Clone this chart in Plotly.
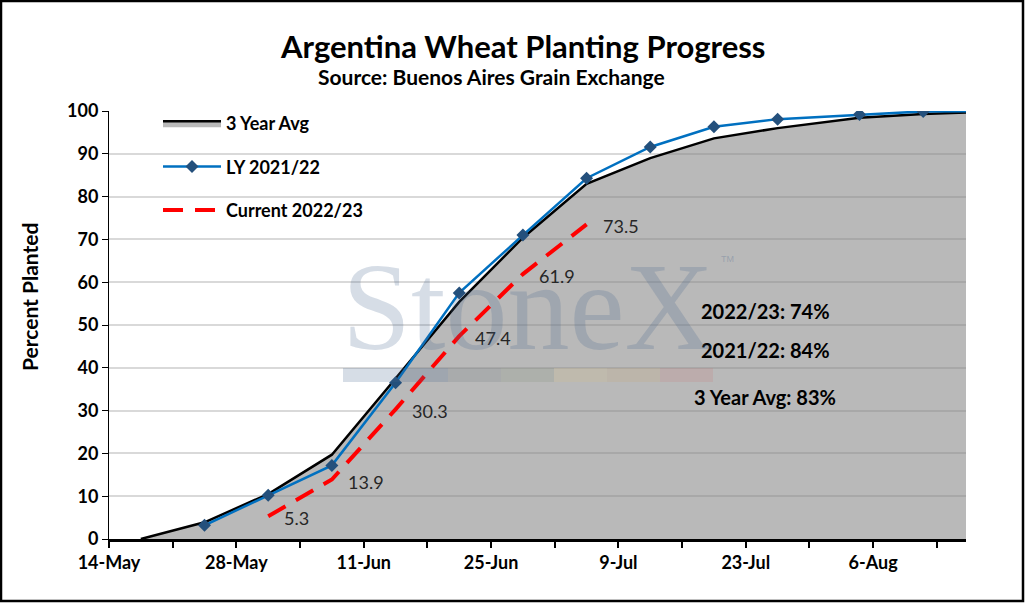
import pandas as pd
import plotly.graph_objects as go

# ---- data ----
avg_dates = ["2022-05-17", "2022-05-24", "2022-05-31", "2022-06-07", "2022-06-14", "2022-06-21", "2022-06-28",
             "2022-07-05", "2022-07-12", "2022-07-19", "2022-07-26", "2022-08-04", "2022-08-11", "2022-08-18"]
avg_vals = [0, 3.9, 10.5, 19.7, 37.5, 55.4, 70.4, 83.0, 89.0, 93.6, 96.0, 98.4, 99.3, 99.8]

ly_dates = ["2022-05-24", "2022-05-31", "2022-06-07", "2022-06-14", "2022-06-21", "2022-06-28", "2022-07-05",
            "2022-07-12", "2022-07-19", "2022-07-26", "2022-08-04", "2022-08-11", "2022-08-18"]
ly_vals = [3.2, 10.2, 17.2, 36.5, 57.5, 71.0, 84.3, 91.6, 96.3, 98.1, 99.2, 99.9, 100]

cur_dates = ["2022-05-31", "2022-06-07", "2022-06-14", "2022-06-21", "2022-06-28", "2022-07-05"]
cur_vals = [5.3, 13.9, 30.3, 47.4, 61.9, 73.5]

summary_lines = ["2022/23: 74%", "2021/22: 84%", "3 Year Avg: 83%"]

# Excel puts date points in the middle of the day
half_day = pd.Timedelta(hours=12)
avg_x = pd.to_datetime(avg_dates) + half_day
ly_x = pd.to_datetime(ly_dates) + half_day
cur_x = pd.to_datetime(cur_dates) + half_day

FONT = "Lato"
W, H = 1025, 603
L, R, T, B = 109, 59, 111, 64
pw, ph = W - L - R, H - T - B


def px(x):
    return (x - L) / pw


def py(y):
    return (H - B - y) / ph


def note(x, y, text, size, bold=True, color="black", **kw):
    # text placed by pixel position on the page
    fig.add_annotation(x=px(x), y=py(y), xref="paper", yref="paper", text=text, showarrow=False,
                       xanchor=kw.pop("xanchor", "center"), yanchor=kw.pop("yanchor", "middle"),
                       font=dict(family=kw.pop("family", FONT), size=size, color=color,
                                 weight="bold" if bold else "normal"), **kw)


fig = go.Figure()

fig.add_trace(go.Scatter(
    x=avg_x, y=avg_vals, name="3 Year Avg", mode="lines",
    line=dict(color="black", width=2.5), fill="tozeroy",
    fillcolor="rgba(128,128,128,0.55)", legendgroup="a"))

fig.add_trace(go.Scatter(
    x=ly_x, y=ly_vals, name="LY 2021/22", mode="lines+markers",
    line=dict(color="#0070c0", width=2.5),
    marker=dict(symbol="diamond", size=10, color="#24507c"), legendgroup="b"))

fig.add_trace(go.Scatter(
    x=cur_x, y=cur_vals, name="Current 2022/23", mode="lines",
    line=dict(color="#ff0000", width=4, dash="20px,12px"), legendgroup="c"))

# data labels on current season
for xv, yv in zip(cur_x, cur_vals):
    fig.add_annotation(x=xv, y=yv, text=f"{yv:.1f}", showarrow=False, xanchor="left", yanchor="middle",
                       xshift=14, yshift=-2, font=dict(family=FONT, size=18, color="#262626"))

# summary text
for txt, ypos in zip(summary_lines, [311, 350, 397]):
    note(765, ypos, txt, 20)

# StoneX watermark
note(340, 307, "StoneX", 124, bold=False, color="rgba(70,100,140,0.22)",
     family="Liberation Serif", xanchor="left")
note(719, 259, "TM", 9, bold=False, color="rgba(70,100,140,0.3)", family="Liberation Sans", xanchor="left")
bar_cols = ["rgba(70,100,140,0.22)", "rgba(80,90,100,0.14)", "rgba(110,130,100,0.16)",
            "rgba(210,190,140,0.25)", "rgba(200,170,120,0.22)", "rgba(200,120,120,0.2)"]
edges = [343, 448, 501, 554, 607, 660, 713]
shapes = []
for i, c in enumerate(bar_cols):
    shapes.append(dict(type="rect", xref="paper", yref="paper", x0=px(edges[i]), x1=px(edges[i + 1]),
                       y0=py(382), y1=py(368), fillcolor=c, line=dict(width=0), layer="above"))

# outer frame
shapes.append(dict(type="rect", xref="paper", yref="paper", x0=px(1), x1=px(1023), y0=py(601), y1=py(1),
                   line=dict(color="black", width=2.5), fillcolor="rgba(0,0,0,0)"))

# titles
note(522, 46, "Argentina Wheat Planting Progress", 31)
note(491, 76, "Source: Buenos Aires Grain Exchange", 21)
note(29, 297, "Percent Planted", 21, textangle=-90)

fig.update_layout(
    width=W, height=H, margin=dict(l=L, r=R, t=T, b=B),
    paper_bgcolor="white", plot_bgcolor="white",
    shapes=shapes,
    legend=dict(x=px(158), y=py(105), xanchor="left", yanchor="top", bgcolor="rgba(0,0,0,0)",
                font=dict(family=FONT, size=18, color="black", weight="bold"),
                tracegroupgap=17, itemwidth=58),
)

fig.update_xaxes(
    type="date", range=["2022-05-14", "2022-08-16 05:00"],
    tick0="2022-05-14", dtick=14 * 86400000, tickformat="%-d-%b",
    ticks="outside", ticklen=6, tickwidth=2, tickcolor="black",
    minor=dict(dtick=7 * 86400000, tick0="2022-05-14", ticks="outside", ticklen=6, tickwidth=2,
               tickcolor="black", showgrid=False),
    showline=True, linecolor="black", linewidth=2.5, showgrid=False,
    tickfont=dict(family=FONT, size=18, color="black", weight="bold"),
)
fig.update_yaxes(
    range=[0, 100], dtick=10, ticks="outside", ticklen=6, tickcolor="black",
    showline=True, linecolor="black", linewidth=1,
    gridcolor="#d9d9d9", gridwidth=1.5, zeroline=False,
    tickfont=dict(family=FONT, size=18, color="black", weight="bold"),
)

# drop the browser's default page margin so the chart sits at the top-left corner
fig.write_html("out.html", config={"displayModeBar": False},
               post_script="document.body.style.margin='0';")
